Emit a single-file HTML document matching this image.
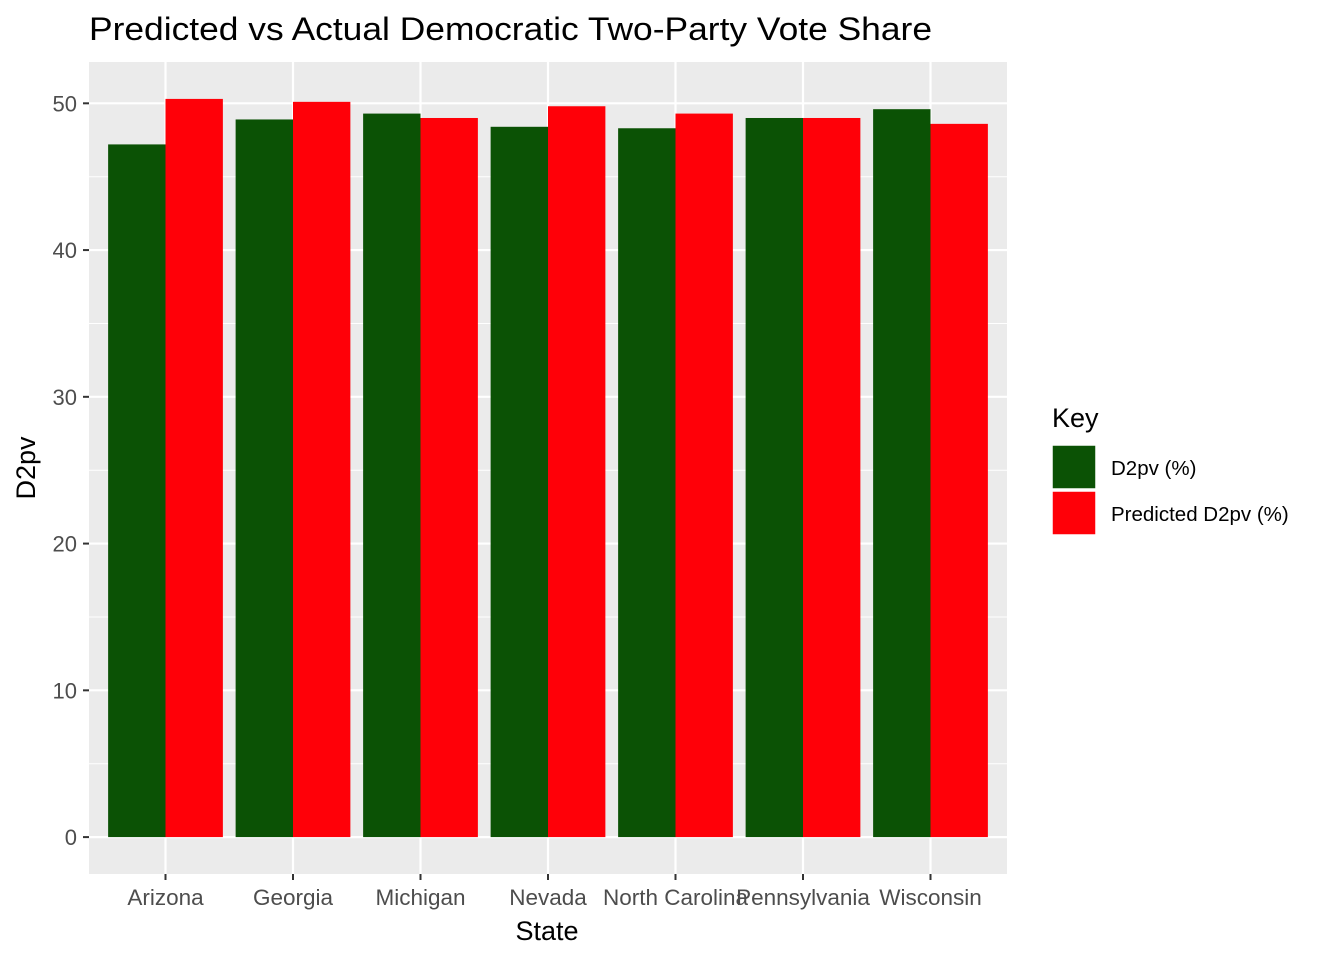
<!DOCTYPE html>
<html><head><meta charset="utf-8"><style>
body{margin:0;background:#fff;font-family:"Liberation Sans",Arial,sans-serif;}
svg text{font-family:"Liberation Sans",Arial,sans-serif;}
</style></head><body>
<svg id="chart" width="1344" height="960">
<text x="89" y="40" font-size="32" textLength="843" lengthAdjust="spacingAndGlyphs" fill="#000">Predicted vs Actual Democratic Two-Party Vote Share</text>
<rect x="89" y="62" width="918" height="812" fill="#ebebeb"/>
<g id="grid"></g><g id="bars"></g><g id="axes"></g>
<text x="547" y="940" font-size="27" text-anchor="middle">State</text>
<text transform="translate(35,468) rotate(-90)" font-size="27" text-anchor="middle">D2pv</text>
<g>
<text x="1052" y="427" font-size="27">Key</text>
<rect x="1052" y="445" width="44" height="44" fill="#0b5205" stroke="#fff" stroke-width="1.5"/>
<text x="1111" y="475" font-size="20.5">D2pv (%)</text>
<rect x="1052" y="491" width="44" height="44" fill="#ff0008" stroke="#fff" stroke-width="1.5"/>
<text x="1111" y="521" font-size="20.5">Predicted D2pv (%)</text>
</g>
</svg>
<script>
const categories=["Arizona","Georgia","Michigan","Nevada","North Carolina","Pennsylvania","Wisconsin"];
const actual=[47.2,48.9,49.3,48.4,48.3,49.0,49.6];
const predicted=[50.3,50.1,49.0,49.8,49.3,49.0,48.6];
const yTicks=[0,10,20,30,40,50];
const NS="http://www.w3.org/2000/svg";
const px0=89,pw=918,py0=62,ph=812;
const ymax=Math.max(...actual,...predicted)*1.05,ymin=-Math.max(...actual,...predicted)*0.05;
const y=v=>py0+ph-(v-ymin)/(ymax-ymin)*ph;
const unit=pw/(categories.length-1+1.2);
const x=i=>px0+unit*(0.6+i);
function mk(t,a,p){const e=document.createElementNS(NS,t);for(const k in a)e.setAttribute(k,a[k]);p.appendChild(e);return e;}
const grid=document.getElementById('grid'),bars=document.getElementById('bars'),axes=document.getElementById('axes');
for(let k=0;k<yTicks.length;k++){
 const v=yTicks[k];
 if(k<yTicks.length-1){const m=(v+yTicks[k+1])/2;const gl=mk('line',{x1:px0,x2:px0+pw,y1:y(m),y2:y(m),stroke:'#fff','stroke-width':1},grid);
 
 }
 const l=mk('line',{x1:px0,x2:px0+pw,y1:y(v),y2:y(v),stroke:'#fff','stroke-width':2.2},grid);
 
 
 const tk=mk('line',{x1:px0-6,x2:px0,y1:y(v),y2:y(v),stroke:'#333','stroke-width':2},axes);
 
 
 const t=mk('text',{x:px0-12,y:y(v)+8,'font-size':22,'text-anchor':'end',fill:'#4d4d4d'},axes);t.textContent=v;
 
 
}
const bw=unit*0.9/2;
categories.forEach((c,i)=>{
 const l=mk('line',{x1:x(i),x2:x(i),y1:py0,y2:py0+ph,stroke:'#fff','stroke-width':2.2},grid);
 
 
 const g=mk('rect',{x:x(i)-bw,y:y(actual[i]),width:bw,height:y(0)-y(actual[i]),fill:'#0b5205'},bars);
 
 
 const r=mk('rect',{x:x(i),y:y(predicted[i]),width:bw,height:y(0)-y(predicted[i]),fill:'#ff0008'},bars);
 
 
 const tk=mk('line',{x1:x(i),x2:x(i),y1:py0+ph,y2:py0+ph+6,stroke:'#333','stroke-width':2},axes);
 
 
 const t=mk('text',{x:x(i),y:905,'font-size':22.5,'text-anchor':'middle',fill:'#4d4d4d'},axes);t.textContent=c;
 
 
});
</script>
</body></html>
